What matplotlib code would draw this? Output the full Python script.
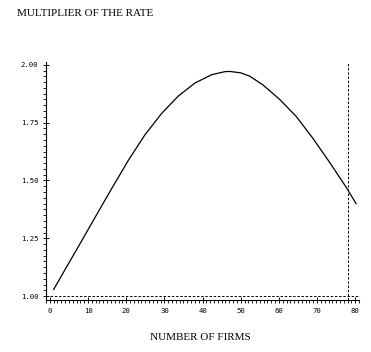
import matplotlib
matplotlib.use("Agg")
import matplotlib.pyplot as plt
from matplotlib.ticker import MultipleLocator, FormatStrFormatter

# Data
firms = [1, 4.2, 7.5, 11.9, 16.2, 20.6, 24.9, 29.3, 33.6, 38.0, 42.4, 45.8,
         47.1, 50.0, 52.3, 55.8, 60.2, 64.5, 68.9, 73.2, 77.6, 80.2]
multiplier = [1.029, 1.121, 1.215, 1.342, 1.465, 1.588, 1.697, 1.790, 1.864, 1.921,
              1.957, 1.970, 1.971, 1.965, 1.951, 1.913, 1.850, 1.777, 1.682, 1.580,
              1.471, 1.400]
ref_y = 1.00
ref_x = 78.0
x_ticks = [0, 10, 20, 30, 40, 50, 60, 70, 80]
y_ticks = [1.00, 1.25, 1.50, 1.75, 2.00]

fig = plt.figure(figsize=(3.71, 3.52), dpi=100)
ax = fig.add_axes([0.124, 0.148, 0.844, 0.676])

ax.plot(firms, multiplier, color="black", lw=0.9, solid_joinstyle="round")
ax.axhline(ref_y, color="black", lw=0.7, ls=(0, (2.5, 1.8)))
ax.axvline(ref_x, color="black", lw=0.7, ls=(0, (2.5, 1.8)))

ax.set_xlim(-1, 81)
ax.set_ylim(0.984, 2.012)
ax.set_xticks(x_ticks)
ax.set_yticks(y_ticks)
ax.yaxis.set_major_formatter(FormatStrFormatter("%.2f"))
ax.xaxis.set_minor_locator(MultipleLocator(1))
ax.yaxis.set_minor_locator(MultipleLocator(0.025))

for s in ["top", "right"]:
    ax.spines[s].set_visible(False)
for s in ["left", "bottom"]:
    ax.spines[s].set_linewidth(0.8)

mono = "DejaVu Sans Mono"
ax.tick_params(axis="both", which="major", direction="inout", length=5, width=0.7,
               labelsize=5.2, pad=3)
ax.tick_params(axis="both", which="minor", direction="out", length=2, width=0.6)
for lab in ax.get_xticklabels() + ax.get_yticklabels():
    lab.set_family(mono)

serif = "Liberation Serif"
fig.text(17 / 371, 1 - 14 / 352, "MULTIPLIER OF THE RATE", family=serif,
         fontsize=8, ha="left", va="center")
fig.text(200 / 371, 1 - 338 / 352, "NUMBER OF FIRMS", family=serif,
         fontsize=8, ha="center", va="center")

fig.savefig("out.png", dpi=100)
